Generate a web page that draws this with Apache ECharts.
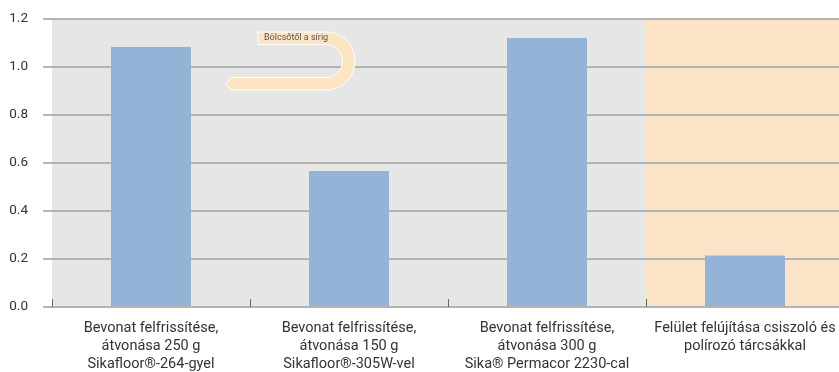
<!DOCTYPE html>
<html>
<head>
<meta charset="utf-8">
<script src="https://cdn.jsdelivr.net/npm/echarts@6/dist/echarts.min.js"></script>
<style>html,body{margin:0;padding:0;background:#fff}#c{width:839px;height:372px}</style>
</head>
<body>
<div id="c"></div>
<script>
const categories = [
  "Bevonat felfrissítése,\nátvonása 250 g\nSikafloor®-264-gyel",
  "Bevonat felfrissítése,\nátvonása 150 g\nSikafloor®-305W-vel",
  "Bevonat felfrissítése,\nátvonása 300 g\nSika® Permacor 2230-cal",
  "Felület felújítása csiszoló és\npolírozó tárcsákkal"
];
const values = [1.083, 0.567, 1.121, 0.215];
const highlighted = [false, false, false, true];
const yMin = 0, yMax = 1.2, yStep = 0.2;
const annotationText = "Bölcsőtől a sírig";

// decorative U-shaped arrow outline
function arrowPoints() {
  const cx = 326, cy = 61, R = 29, r = 16.5;
  const pts = [[258, 32]];
  for (let a = -90; a <= 90; a += 6) {
    const t = a * Math.PI / 180;
    pts.push([cx + R * Math.cos(t), cy + R * Math.sin(t)]);
  }
  pts.push([232, 90], [225, 83.5], [232, 77.5]);
  for (let a = 90; a >= -90; a -= 6) {
    const t = a * Math.PI / 180;
    pts.push([cx + r * Math.cos(t), cy + r * Math.sin(t)]);
  }
  pts.push([258, 44.5]);
  return pts;
}

const chart = echarts.init(document.getElementById('c'), null, {renderer: 'canvas'});
const font = 'Roboto, "Open Sans", sans-serif';
const lineCol = '#b3b3b3';
chart.setOption({
  animation: false,
  grid: {left: 52, top: 19, width: 792, height: 288, containLabel: false, outerBoundsMode: 'none',
         show: true, backgroundColor: '#e6e6e6', borderWidth: 0},
  xAxis: [{
    type: 'category', data: categories, z: 4,
    axisLine: {show: true, lineStyle: {color: lineCol, width: 2}},
    axisTick: {show: true, inside: true, length: 8, lineStyle: {color: '#666', width: 1}},
    axisLabel: {color: '#333', fontSize: 14.5, fontFamily: font, lineHeight: 18, margin: 12, interval: 0},
    splitLine: {show: false}
  }, {
    type: 'category', data: categories, show: false
  }],
  yAxis: {
    type: 'value', min: yMin, max: yMax, interval: yStep, z: 2,
    axisLine: {show: false},
    axisTick: {show: true, length: 9, lineStyle: {color: lineCol, width: 2}},
    axisLabel: {color: '#333', fontSize: 13.5, fontFamily: font, margin: 24, formatter: v => v.toFixed(1)},
    splitLine: {show: true, lineStyle: {color: lineCol, width: 2}}
  },
  series: [{
    type: 'bar', xAxisIndex: 1, silent: true, z: 1,
    barWidth: '100%',
    itemStyle: {color: '#fae3c6'},
    data: highlighted.map(h => h ? yMax : '-')
  }, {
    type: 'bar', xAxisIndex: 0, z: 3,
    barWidth: 80,
    itemStyle: {color: '#95b3d7'},
    data: values
  }],
  graphic: [{
    type: 'polygon', z: 10,
    shape: {points: arrowPoints()},
    style: {fill: '#fde5c4', stroke: '#ffffff', lineWidth: 1}
  }, {
    type: 'text', z: 11, left: 264, top: 33,
    style: {text: annotationText, fill: '#555', fontSize: 9, fontFamily: font}
  }]
});
</script>
</body>
</html>
